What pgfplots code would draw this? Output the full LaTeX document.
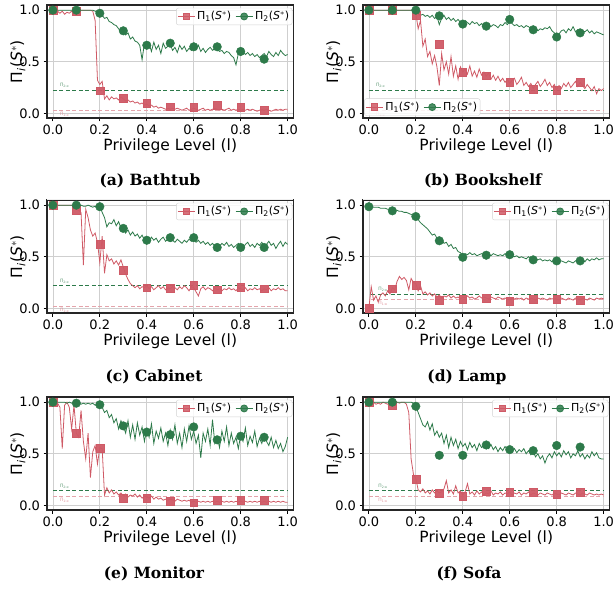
\documentclass[border=0pt]{standalone}
\usepackage{fontspec}
\usepackage{pgfplots}
\usepackage{pgfplotstable}
\pgfplotsset{compat=1.18}
\newfontfamily\dv{DejaVu Sans}
\newfontfamily\capfont{DejaVu Serif}
\definecolor{myred}{RGB}{207,90,102}
\definecolor{mygreen}{RGB}{45,122,74}

\pgfplotstableread{
x r g
0.00 0.99 1.00
0.01 0.98 1.00
0.02 0.99 1.00
0.03 0.97 1.00
0.04 0.99 1.00
0.05 0.96 1.00
0.06 0.98 1.00
0.07 0.97 1.00
0.08 0.99 1.00
0.09 0.96 1.00
0.10 0.99 1.00
0.11 1.00 1.00
0.12 1.00 1.00
0.13 1.00 1.00
0.14 1.00 1.00
0.15 1.00 1.00
0.16 1.00 1.00
0.17 0.99 1.00
0.18 0.90 0.99
0.19 0.32 0.98
0.20 0.28 0.97
0.21 0.31 0.95
0.22 0.14 0.92
0.23 0.17 0.93
0.24 0.13 0.89
0.25 0.16 0.88
0.26 0.14 0.86
0.27 0.15 0.85
0.28 0.13 0.82
0.29 0.16 0.79
0.30 0.14 0.80
0.31 0.12 0.76
0.32 0.13 0.78
0.33 0.11 0.72
0.34 0.12 0.74
0.35 0.10 0.70
0.36 0.11 0.69
0.37 0.09 0.66
0.38 0.10 0.52
0.39 0.08 0.68
0.40 0.09 0.64
0.41 0.07 0.67
0.42 0.08 0.60
0.43 0.06 0.69
0.44 0.07 0.62
0.45 0.05 0.66
0.46 0.06 0.58
0.47 0.05 0.68
0.48 0.04 0.63
0.49 0.05 0.65
0.50 0.04 0.67
0.51 0.05 0.61
0.52 0.04 0.64
0.53 0.05 0.59
0.54 0.04 0.66
0.55 0.03 0.62
0.56 0.04 0.65
0.57 0.05 0.60
0.58 0.03 0.63
0.59 0.04 0.61
0.60 0.05 0.64
0.61 0.04 0.62
0.62 0.03 0.66
0.63 0.04 0.60
0.64 0.05 0.63
0.65 0.03 0.59
0.66 0.04 0.62
0.67 0.03 0.64
0.68 0.04 0.61
0.69 0.05 0.63
0.70 0.04 0.62
0.71 0.03 0.60
0.72 0.04 0.61
0.73 0.03 0.58
0.74 0.04 0.60
0.75 0.05 0.59
0.76 0.03 0.56
0.77 0.04 0.54
0.78 0.03 0.47
0.79 0.04 0.58
0.80 0.03 0.56
0.81 0.04 0.60
0.82 0.03 0.57
0.83 0.04 0.59
0.84 0.03 0.56
0.85 0.04 0.58
0.86 0.03 0.55
0.87 0.02 0.57
0.88 0.03 0.54
0.89 0.04 0.56
0.90 0.03 0.58
0.91 0.04 0.55
0.92 0.03 0.60
0.93 0.02 0.57
0.94 0.03 0.55
0.95 0.04 0.59
0.96 0.03 0.56
0.97 0.04 0.61
0.98 0.03 0.58
0.99 0.04 0.56
1.00 0.04 0.57
}\lineA
\pgfplotstableread{
x r g
0.0 1.00 1.00
0.1 0.99 1.00
0.2 0.22 0.97
0.3 0.15 0.80
0.4 0.10 0.66
0.5 0.065 0.68
0.6 0.058 0.645
0.7 0.08 0.645
0.8 0.058 0.60
0.9 0.03 0.525
}\markA

\pgfplotstableread{
x r g
0.00 1.00 1.00
0.01 1.00 1.00
0.02 1.00 1.00
0.03 1.00 1.00
0.04 1.00 1.00
0.05 1.00 1.00
0.06 1.00 1.00
0.07 1.00 1.00
0.08 1.00 1.00
0.09 1.00 1.00
0.10 1.00 1.00
0.11 1.00 1.00
0.12 1.00 1.00
0.13 1.00 1.00
0.14 1.00 1.00
0.15 1.00 1.00
0.16 1.00 1.00
0.17 1.00 1.00
0.18 1.00 1.00
0.19 0.99 1.00
0.20 0.97 0.99
0.21 0.82 0.96
0.22 0.90 0.95
0.23 0.65 0.96
0.24 0.72 0.94
0.25 0.55 0.95
0.26 0.60 0.93
0.27 0.48 0.95
0.28 0.56 0.92
0.29 0.45 0.94
0.30 0.27 0.86
0.31 0.58 0.92
0.32 0.42 0.95
0.33 0.50 0.91
0.34 0.38 0.93
0.35 0.55 0.90
0.36 0.36 0.92
0.37 0.46 0.89
0.38 0.33 0.91
0.39 0.45 0.88
0.40 0.40 0.87
0.41 0.43 0.90
0.42 0.38 0.88
0.43 0.46 0.86
0.44 0.36 0.89
0.45 0.41 0.87
0.46 0.35 0.88
0.47 0.43 0.85
0.48 0.37 0.87
0.49 0.40 0.84
0.50 0.36 0.85
0.51 0.39 0.86
0.52 0.33 0.84
0.53 0.37 0.86
0.54 0.32 0.85
0.55 0.36 0.83
0.56 0.31 0.86
0.57 0.34 0.85
0.58 0.30 0.88
0.59 0.33 0.86
0.60 0.29 0.89
0.61 0.32 0.87
0.62 0.34 0.85
0.63 0.28 0.86
0.64 0.31 0.84
0.65 0.35 0.85
0.66 0.27 0.83
0.67 0.30 0.85
0.68 0.26 0.84
0.69 0.29 0.82
0.70 0.24 0.81
0.71 0.28 0.82
0.72 0.31 0.80
0.73 0.26 0.82
0.74 0.29 0.81
0.75 0.33 0.83
0.76 0.27 0.82
0.77 0.30 0.84
0.78 0.25 0.80
0.79 0.28 0.78
0.80 0.23 0.76
0.81 0.27 0.77
0.82 0.24 0.80
0.83 0.29 0.81
0.84 0.26 0.78
0.85 0.30 0.82
0.86 0.25 0.80
0.87 0.28 0.84
0.88 0.31 0.79
0.89 0.26 0.81
0.90 0.30 0.78
0.91 0.27 0.80
0.92 0.24 0.79
0.93 0.28 0.81
0.94 0.25 0.78
0.95 0.22 0.80
0.96 0.26 0.77
0.97 0.19 0.79
0.98 0.24 0.78
0.99 0.22 0.77
1.00 0.24 0.76
}\lineB
\pgfplotstableread{
x r g
0.0 1.00 1.00
0.1 1.00 1.00
0.2 0.95 1.00
0.3 0.67 0.945
0.4 0.40 0.865
0.5 0.365 0.845
0.6 0.30 0.91
0.7 0.235 0.81
0.8 0.226 0.74
0.9 0.30 0.78
}\markB

\pgfplotstableread{
x r g
0.00 1.00 1.00
0.01 1.00 1.00
0.02 1.00 1.00
0.03 1.00 1.00
0.04 1.00 1.00
0.05 1.00 1.00
0.06 1.00 1.00
0.07 1.00 1.00
0.08 1.00 1.00
0.09 1.00 1.00
0.10 0.96 1.00
0.11 0.95 0.99
0.12 0.93 1.00
0.13 0.42 0.99
0.14 0.96 0.99
0.15 0.88 1.00
0.16 0.76 0.99
0.17 0.70 0.98
0.18 0.73 0.99
0.19 0.64 0.97
0.20 0.44 0.99
0.21 0.70 0.93
0.22 0.34 0.88
0.23 0.52 0.79
0.24 0.46 0.83
0.25 0.48 0.82
0.26 0.43 0.86
0.27 0.46 0.80
0.28 0.42 0.84
0.29 0.47 0.78
0.30 0.40 0.80
0.31 0.33 0.73
0.32 0.28 0.76
0.33 0.24 0.71
0.34 0.22 0.74
0.35 0.20 0.70
0.36 0.22 0.72
0.37 0.19 0.68
0.38 0.21 0.71
0.39 0.20 0.66
0.40 0.22 0.67
0.41 0.19 0.65
0.42 0.21 0.69
0.43 0.18 0.66
0.44 0.20 0.68
0.45 0.22 0.64
0.46 0.19 0.67
0.47 0.21 0.69
0.48 0.18 0.65
0.49 0.20 0.67
0.50 0.19 0.70
0.51 0.21 0.66
0.52 0.20 0.64
0.53 0.18 0.67
0.54 0.21 0.65
0.55 0.19 0.63
0.56 0.22 0.66
0.57 0.20 0.64
0.58 0.17 0.67
0.59 0.21 0.65
0.60 0.20 0.68
0.61 0.16 0.64
0.62 0.12 0.66
0.63 0.19 0.63
0.64 0.21 0.65
0.65 0.18 0.62
0.66 0.20 0.64
0.67 0.19 0.61
0.68 0.17 0.63
0.69 0.20 0.60
0.70 0.18 0.62
0.71 0.19 0.60
0.72 0.17 0.63
0.73 0.19 0.61
0.74 0.18 0.64
0.75 0.20 0.60
0.76 0.18 0.62
0.77 0.19 0.59
0.78 0.17 0.61
0.79 0.20 0.63
0.80 0.19 0.60
0.81 0.18 0.58
0.82 0.20 0.62
0.83 0.17 0.64
0.84 0.19 0.60
0.85 0.18 0.62
0.86 0.20 0.59
0.87 0.18 0.63
0.88 0.19 0.61
0.89 0.17 0.64
0.90 0.19 0.60
0.91 0.18 0.62
0.92 0.20 0.65
0.93 0.17 0.61
0.94 0.19 0.63
0.95 0.18 0.58
0.96 0.20 0.62
0.97 0.18 0.65
0.98 0.19 0.60
0.99 0.17 0.64
1.00 0.17 0.62
}\lineC
\pgfplotstableread{
x r g
0.0 1.00 1.00
0.1 0.95 1.00
0.2 0.62 0.985
0.3 0.37 0.775
0.4 0.20 0.66
0.5 0.195 0.685
0.6 0.225 0.685
0.7 0.18 0.59
0.8 0.205 0.59
0.9 0.19 0.59
}\markC

\pgfplotstableread{
x r g
0.00 0.00 0.98
0.01 0.21 0.98
0.02 0.08 0.98
0.03 0.12 0.98
0.04 0.06 0.98
0.05 0.13 0.97
0.06 0.15 0.97
0.07 0.12 0.97
0.08 0.17 0.96
0.09 0.14 0.96
0.10 0.20 0.96
0.11 0.18 0.95
0.12 0.26 0.95
0.13 0.31 0.94
0.14 0.28 0.94
0.15 0.30 0.93
0.16 0.27 0.93
0.17 0.18 0.92
0.18 0.29 0.91
0.19 0.25 0.90
0.20 0.24 0.89
0.21 0.17 0.86
0.22 0.22 0.83
0.23 0.14 0.81
0.24 0.16 0.79
0.25 0.13 0.77
0.26 0.15 0.74
0.27 0.12 0.71
0.28 0.14 0.72
0.29 0.11 0.68
0.30 0.13 0.66
0.31 0.10 0.67
0.32 0.12 0.63
0.33 0.11 0.64
0.34 0.13 0.60
0.35 0.10 0.62
0.36 0.12 0.58
0.37 0.10 0.59
0.38 0.11 0.55
0.39 0.09 0.54
0.40 0.11 0.51
0.41 0.10 0.53
0.42 0.12 0.52
0.43 0.10 0.54
0.44 0.11 0.52
0.45 0.09 0.53
0.46 0.10 0.51
0.47 0.12 0.52
0.48 0.10 0.53
0.49 0.11 0.52
0.50 0.10 0.53
0.51 0.09 0.52
0.52 0.11 0.51
0.53 0.10 0.53
0.54 0.09 0.52
0.55 0.11 0.51
0.56 0.10 0.52
0.57 0.09 0.51
0.58 0.10 0.53
0.59 0.09 0.52
0.60 0.08 0.53
0.61 0.10 0.51
0.62 0.09 0.50
0.63 0.10 0.51
0.64 0.09 0.49
0.65 0.10 0.50
0.66 0.08 0.49
0.67 0.10 0.48
0.68 0.09 0.50
0.69 0.10 0.48
0.70 0.09 0.47
0.71 0.08 0.48
0.72 0.10 0.47
0.73 0.09 0.48
0.74 0.10 0.46
0.75 0.09 0.47
0.76 0.08 0.46
0.77 0.10 0.47
0.78 0.09 0.45
0.79 0.10 0.46
0.80 0.09 0.46
0.81 0.08 0.45
0.82 0.10 0.46
0.83 0.09 0.45
0.84 0.08 0.44
0.85 0.10 0.46
0.86 0.09 0.45
0.87 0.08 0.44
0.88 0.10 0.46
0.89 0.09 0.47
0.90 0.08 0.46
0.91 0.10 0.47
0.92 0.09 0.45
0.93 0.08 0.48
0.94 0.10 0.46
0.95 0.09 0.48
0.96 0.08 0.47
0.97 0.10 0.49
0.98 0.09 0.47
0.99 0.10 0.48
1.00 0.09 0.48
}\lineD
\pgfplotstableread{
x r g
0.0 0.00 0.985
0.1 0.19 0.945
0.2 0.225 0.89
0.3 0.08 0.655
0.4 0.087 0.495
0.5 0.10 0.515
0.6 0.07 0.52
0.7 0.085 0.47
0.8 0.087 0.46
0.9 0.08 0.46
}\markD

\pgfplotstableread{
x r g
0.00 1.00 1.00
0.01 1.00 1.00
0.02 0.99 1.00
0.03 0.95 1.00
0.04 0.55 1.00
0.05 0.97 1.00
0.06 1.00 0.99
0.07 0.95 1.00
0.08 0.74 0.99
0.09 0.97 1.00
0.10 0.70 1.00
0.11 0.66 0.99
0.12 0.92 0.98
0.13 0.62 0.99
0.14 0.45 0.98
0.15 0.70 0.99
0.16 0.27 0.98
0.17 0.52 0.99
0.18 0.58 0.97
0.19 0.40 0.98
0.20 0.56 0.97
0.21 0.55 0.95
0.22 0.10 0.90
0.23 0.17 0.92
0.24 0.12 0.85
0.25 0.15 0.88
0.26 0.11 0.80
0.27 0.13 0.84
0.28 0.10 0.74
0.29 0.12 0.82
0.30 0.09 0.77
0.31 0.11 0.70
0.32 0.08 0.82
0.33 0.10 0.66
0.34 0.09 0.78
0.35 0.11 0.64
0.36 0.08 0.80
0.37 0.10 0.68
0.38 0.07 0.76
0.39 0.09 0.62
0.40 0.08 0.74
0.41 0.07 0.66
0.42 0.09 0.79
0.43 0.06 0.60
0.44 0.08 0.72
0.45 0.06 0.65
0.46 0.07 0.75
0.47 0.05 0.62
0.48 0.06 0.70
0.49 0.05 0.58
0.50 0.06 0.73
0.51 0.05 0.64
0.52 0.04 0.78
0.53 0.06 0.60
0.54 0.05 0.70
0.55 0.04 0.56
0.56 0.05 0.74
0.57 0.04 0.62
0.58 0.05 0.77
0.59 0.03 0.64
0.60 0.04 0.72
0.61 0.03 0.60
0.62 0.04 0.68
0.63 0.03 0.46
0.64 0.04 0.70
0.65 0.03 0.62
0.66 0.04 0.74
0.67 0.03 0.58
0.68 0.04 0.83
0.69 0.03 0.60
0.70 0.04 0.66
0.71 0.03 0.56
0.72 0.04 0.72
0.73 0.03 0.62
0.74 0.04 0.76
0.75 0.03 0.58
0.76 0.04 0.70
0.77 0.03 0.60
0.78 0.04 0.66
0.79 0.03 0.55
0.80 0.04 0.68
0.81 0.03 0.62
0.82 0.04 0.75
0.83 0.03 0.58
0.84 0.04 0.67
0.85 0.03 0.61
0.86 0.04 0.72
0.87 0.03 0.57
0.88 0.04 0.65
0.89 0.03 0.60
0.90 0.04 0.68
0.91 0.03 0.62
0.92 0.04 0.58
0.93 0.03 0.66
0.94 0.04 0.56
0.95 0.03 0.63
0.96 0.04 0.55
0.97 0.03 0.60
0.98 0.04 0.52
0.99 0.03 0.57
1.00 0.03 0.66
}\lineE
\pgfplotstableread{
x r g
0.0 1.00 1.00
0.1 0.70 0.99
0.2 0.55 0.975
0.3 0.07 0.77
0.4 0.07 0.71
0.5 0.04 0.685
0.6 0.025 0.76
0.7 0.048 0.635
0.8 0.048 0.67
0.9 0.048 0.66
}\markE

\pgfplotstableread{
x r g
0.00 1.00 1.00
0.01 0.99 1.00
0.02 1.00 1.00
0.03 0.98 1.00
0.04 0.99 1.00
0.05 0.98 1.00
0.06 1.00 1.00
0.07 0.99 1.00
0.08 0.98 1.00
0.09 0.99 1.00
0.10 0.98 1.00
0.11 0.99 1.00
0.12 1.00 1.00
0.13 0.99 1.00
0.14 1.00 1.00
0.15 1.00 1.00
0.16 0.98 1.00
0.17 0.90 1.00
0.18 0.45 1.00
0.19 0.30 0.99
0.20 0.26 0.96
0.21 0.15 0.90
0.22 0.13 0.84
0.23 0.16 0.78
0.24 0.12 0.76
0.25 0.14 0.81
0.26 0.11 0.73
0.27 0.15 0.79
0.28 0.12 0.68
0.29 0.14 0.72
0.30 0.12 0.66
0.31 0.13 0.70
0.32 0.16 0.60
0.33 0.24 0.68
0.34 0.12 0.56
0.35 0.15 0.66
0.36 0.11 0.58
0.37 0.19 0.64
0.38 0.12 0.55
0.39 0.14 0.62
0.40 0.10 0.57
0.41 0.13 0.60
0.42 0.21 0.54
0.43 0.11 0.61
0.44 0.13 0.56
0.45 0.10 0.59
0.46 0.14 0.53
0.47 0.11 0.60
0.48 0.13 0.56
0.49 0.10 0.58
0.50 0.12 0.57
0.51 0.11 0.55
0.52 0.14 0.59
0.53 0.10 0.54
0.54 0.12 0.57
0.55 0.11 0.52
0.56 0.13 0.56
0.57 0.10 0.53
0.58 0.12 0.57
0.59 0.11 0.54
0.60 0.13 0.56
0.61 0.10 0.53
0.62 0.12 0.55
0.63 0.11 0.51
0.64 0.13 0.54
0.65 0.10 0.52
0.66 0.12 0.55
0.67 0.11 0.50
0.68 0.13 0.53
0.69 0.10 0.49
0.70 0.12 0.52
0.71 0.11 0.47
0.72 0.10 0.50
0.73 0.12 0.45
0.74 0.11 0.48
0.75 0.10 0.41
0.76 0.12 0.47
0.77 0.11 0.50
0.78 0.10 0.46
0.79 0.12 0.52
0.80 0.11 0.48
0.81 0.10 0.51
0.82 0.12 0.47
0.83 0.11 0.53
0.84 0.10 0.49
0.85 0.12 0.52
0.86 0.11 0.46
0.87 0.10 0.50
0.88 0.12 0.48
0.89 0.11 0.53
0.90 0.10 0.47
0.91 0.12 0.50
0.92 0.11 0.45
0.93 0.10 0.49
0.94 0.12 0.46
0.95 0.11 0.52
0.96 0.10 0.48
0.97 0.11 0.51
0.98 0.10 0.46
0.99 0.11 0.45
1.00 0.10 0.45
}\lineF
\pgfplotstableread{
x r g
0.0 1.00 1.00
0.1 0.97 1.00
0.2 0.25 0.96
0.3 0.115 0.485
0.4 0.09 0.485
0.5 0.135 0.585
0.6 0.125 0.54
0.7 0.13 0.53
0.8 0.105 0.58
0.9 0.125 0.565
}\markF

\pgfplotsset{
  pnl/.style={
    scale only axis, width=246.5pt, height=113pt, anchor=south west,
    xmin=-0.025, xmax=1.025, ymin=-0.045, ymax=1.05,
    xtick={0,0.2,0.4,0.6,0.8,1}, ytick={0,0.5,1},
    xtick pos=lower, ytick pos=left, tick align=outside,
    major tick length=3.5pt,
    every tick/.style={black, line width=0.8pt},
    /pgf/number format/fixed, /pgf/number format/fixed zerofill,
    /pgf/number format/precision=1, /pgf/number format/assume math mode=true,
    tick label style={font=\dv\fontsize{13}{15}\selectfont},
    label style={font=\dv\fontsize{15.5}{18}\selectfont},
    xlabel={Privilege Level (l)},
    ylabel={Π\textsubscript{\textit{i}}(\textit{S}\textsuperscript{$*$})},
    xlabel style={yshift=3pt},
    ylabel style={yshift=-13pt},
    grid=major, grid style={gray!38, line width=0.7pt},
    axis line style={line width=1.1pt, black!85},
    legend columns=2,
    legend style={font=\dv\fontsize{11}{13}\selectfont, draw=gray!35, rounded corners=2pt,
      fill=white, fill opacity=0.85, text opacity=1, inner xsep=1pt, inner ysep=1.5pt,
      /tikz/every even column/.append style={column sep=2pt}},
    legend cell align=left,
  },
  rline/.style={myred, line width=0.8pt, forget plot},
  gline/.style={mygreen, line width=0.8pt, forget plot},
  rmark/.style={only marks, mark=square*, mark size=3.9pt, mark options={fill=myred, draw=myred, fill opacity=0.95}, forget plot},
  gmark/.style={only marks, mark=*, mark size=4.3pt, mark options={fill=mygreen, draw=mygreen}, forget plot},
  gdash/.style={mygreen, dashed, line width=1pt, dash pattern=on 4pt off 2.5pt, forget plot},
  rdash/.style={myred!55, dashed, line width=1pt, dash pattern=on 4pt off 2.5pt, forget plot},
  rleg/.style={myred, line width=0.8pt, mark=square*, mark size=3.3pt, mark options={fill=myred}},
  gleg/.style={mygreen, line width=0.8pt, mark=*, mark size=3.5pt, mark options={fill=mygreen}},
}
\tikzset{
  glab/.style={mygreen!80, font=\dv\fontsize{4.5}{5}\selectfont},
  rlab/.style={myred!70, font=\dv\fontsize{4.5}{5}\selectfont},
}
\newcommand\legs{%
  \addlegendimage{rleg}\addlegendentry{Π\textsubscript{1}(\textit{S}\textsuperscript{$*$})}
  \addlegendimage{gleg}\addlegendentry{Π\textsubscript{2}(\textit{S}\textsuperscript{$*$})}}
\newcommand\capt[3]{\node[font=\capfont\bfseries\fontsize{15.5}{18}\selectfont, anchor=base] at (#1pt,#2pt) {#3};}

\begin{document}
\begin{tikzpicture}
\useasboundingbox (0,0) rectangle (614pt,590pt);
% (a)
\begin{axis}[pnl, at={(47pt,472pt)}, legend style={at={(0.995,0.975)}, anchor=north east}]
\addplot[gdash] coordinates {(0,0.225) (1,0.225)};
\addplot[rdash] coordinates {(0,0.025) (1,0.025)};
\addplot[rline] table[x=x,y=r]{\lineA};
\addplot[gline] table[x=x,y=g]{\lineA};
\addplot[rmark] table[x=x,y=r]{\markA};
\addplot[gmark] table[x=x,y=g]{\markA};
\node[glab] at (axis cs:0.05,0.27) {Π\textsubscript{2:α}};
\node[rlab] at (axis cs:0.05,-0.012) {Π\textsubscript{1:α}};
\legs
\end{axis}
% (b)
\begin{axis}[pnl, at={(363pt,472pt)}, legend style={at={(0.005,0.02)}, anchor=south west}]
\addplot[gdash] coordinates {(0,0.225) (1,0.225)};
\addplot[rdash] coordinates {(0,0.03) (1,0.03)};
\addplot[rline] table[x=x,y=r]{\lineB};
\addplot[gline] table[x=x,y=g]{\lineB};
\addplot[rmark] table[x=x,y=r]{\markB};
\addplot[gmark] table[x=x,y=g]{\markB};
\node[glab] at (axis cs:0.05,0.27) {Π\textsubscript{2:α}};
\node[rlab] at (axis cs:0.05,-0.01) {Π\textsubscript{1:α}};
\legs
\end{axis}
% (c)
\begin{axis}[pnl, at={(47pt,277pt)}, legend style={at={(0.995,0.975)}, anchor=north east}]
\addplot[gdash] coordinates {(0,0.22) (1,0.22)};
\addplot[rdash] coordinates {(0,0.02) (1,0.02)};
\addplot[rline] table[x=x,y=r]{\lineC};
\addplot[gline] table[x=x,y=g]{\lineC};
\addplot[rmark] table[x=x,y=r]{\markC};
\addplot[gmark] table[x=x,y=g]{\markC};
\node[glab] at (axis cs:0.05,0.265) {Π\textsubscript{2:α}};
\node[rlab] at (axis cs:0.05,-0.015) {Π\textsubscript{1:α}};
\legs
\end{axis}
% (d)
\begin{axis}[pnl, at={(363pt,277pt)}, legend style={at={(0.995,0.975)}, anchor=north east}]
\addplot[gdash] coordinates {(0.01,0.135) (1,0.135)};
\addplot[rdash] coordinates {(0.01,0.085) (1,0.085)};
\addplot[rline] table[x=x,y=r]{\lineD};
\addplot[gline] table[x=x,y=g]{\lineD};
\addplot[rmark] table[x=x,y=r]{\markD};
\addplot[gmark] table[x=x,y=g]{\markD};
\node[glab] at (axis cs:0.06,0.18) {Π\textsubscript{2:α}};
\node[rlab] at (axis cs:0.06,0.05) {Π\textsubscript{1:α}};
\legs
\end{axis}
% (e)
\begin{axis}[pnl, at={(47pt,80pt)}, legend style={at={(0.995,0.975)}, anchor=north east}]
\addplot[gdash] coordinates {(0,0.145) (1,0.145)};
\addplot[rdash] coordinates {(0,0.087) (1,0.087)};
\addplot[rline] table[x=x,y=r]{\lineE};
\addplot[gline] table[x=x,y=g]{\lineE};
\addplot[rmark] table[x=x,y=r]{\markE};
\addplot[gmark] table[x=x,y=g]{\markE};
\node[glab] at (axis cs:0.05,0.185) {Π\textsubscript{2:α}};
\node[rlab] at (axis cs:0.05,0.05) {Π\textsubscript{1:α}};
\legs
\end{axis}
% (f)
\begin{axis}[pnl, at={(363pt,80pt)}, legend style={at={(0.995,0.975)}, anchor=north east}]
\addplot[gdash] coordinates {(0,0.145) (1,0.145)};
\addplot[rdash] coordinates {(0,0.087) (1,0.087)};
\addplot[rline] table[x=x,y=r]{\lineF};
\addplot[gline] table[x=x,y=g]{\lineF};
\addplot[rmark] table[x=x,y=r]{\markF};
\addplot[gmark] table[x=x,y=g]{\markF};
\node[glab] at (axis cs:0.06,0.185) {Π\textsubscript{2:α}};
\node[rlab] at (axis cs:0.06,0.05) {Π\textsubscript{1:α}};
\legs
\end{axis}
\capt{150}{404}{(a) Bathtub}
\capt{483}{404}{(b) Bookshelf}
\capt{154}{208}{(c) Cabinet}
\capt{467}{208}{(d) Lamp}
\capt{154}{12}{(e) Monitor}
\capt{469}{12}{(f) Sofa}
\draw[gray!12, line width=0.8pt] (47pt,391pt) -- (293pt,391pt);
\draw[gray!12, line width=0.8pt] (363pt,391pt) -- (610pt,391pt);
\end{tikzpicture}
\end{document}
